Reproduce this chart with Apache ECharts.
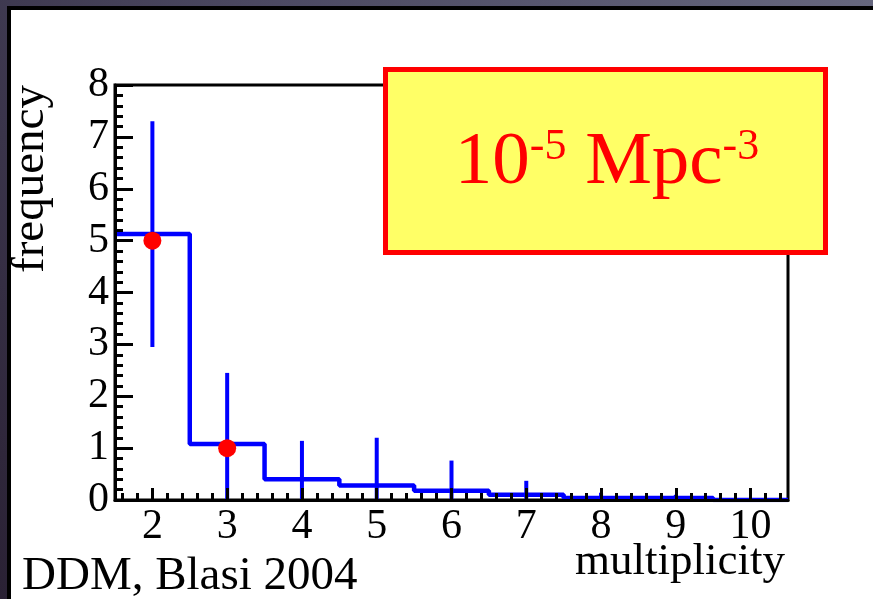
<!DOCTYPE html>
<html>
<head>
<meta charset="utf-8">
<script src="https://cdn.jsdelivr.net/npm/echarts@6/dist/echarts.min.js"></script>
<style>
  html, body { margin: 0; padding: 0; background: #3a3748; }
  #chart { width: 873px; height: 599px; }
</style>
</head>
<body>
<div id="chart"></div>
<script>
// Multiplicity histogram (bin edges and bin contents)
const binEdges  = [1.5, 2.5, 3.5, 4.5, 5.5, 6.5, 7.5, 8.5, 9.5, 10.5];
const binCounts = [5.13, 1.08, 0.40, 0.28, 0.18, 0.10, 0.04, 0.04, 0.0];

// Error bars at the bin centres
const errX    = [2, 3, 4, 5, 6, 7, 8, 9];
const errLow  = [2.95, 0, 0, 0, 0, 0, 0, 0];
const errHigh = [7.30, 2.45, 1.14, 1.20, 0.76, 0.37, 0.14, 0.10];

// Observed multiplets
const obsX = [2, 3];
const obsY = [5, 1];

// Axis tick labels
const xTickLabels = [2, 3, 4, 5, 6, 7, 8, 9, 10];
const yTickLabels = [0, 1, 2, 3, 4, 5, 6, 7, 8];

const SERIF = 'Liberation Serif';

// Step outline of the histogram built from edges and counts
const stepPoints = [];
for (let i = 0; i < binCounts.length; i++) {
  stepPoints.push([binEdges[i], binCounts[i]]);
  stepPoints.push([binEdges[i + 1], binCounts[i]]);
}

// Minor x ticks every 0.2 between the integer ticks
const xMinorTicks = [];
for (let k = 8; k <= 52; k++) {
  const v = Math.round(k * 0.2 * 10) / 10;
  if (Math.abs(v - Math.round(v)) > 1e-6) xMinorTicks.push(v);
}

const chart = echarts.init(document.getElementById('chart'), null, { renderer: 'canvas' });

chart.setOption({
  animation: false,
  backgroundColor: 'transparent',
  grid: {
    left: 115, right: 85, top: 85, bottom: 99,
    show: true, borderColor: '#000', borderWidth: 3, backgroundColor: 'transparent'
  },
  xAxis: [
    {
      type: 'value', min: 1.5, max: 10.5, position: 'bottom', z: 5,
      axisLine: { show: true, onZero: false, lineStyle: { color: '#000', width: 3 } },
      axisTick: { show: true, inside: true, length: 12, lineStyle: { color: '#000', width: 3 }, customValues: xTickLabels },
      axisLabel: { customValues: xTickLabels, fontFamily: SERIF, fontSize: 42, color: '#000', margin: 6 },
      splitLine: { show: false }
    },
    {
      type: 'value', min: 1.5, max: 10.5, position: 'bottom', z: 5,
      axisLine: { show: false, onZero: false },
      axisTick: { show: true, inside: true, length: 7, lineStyle: { color: '#000', width: 3 }, customValues: xMinorTicks },
      axisLabel: { show: false },
      splitLine: { show: false }
    }
  ],
  yAxis: {
    type: 'value', min: 0, max: 8, interval: 1, z: 5,
    axisLine: { show: true, lineStyle: { color: '#000', width: 3 } },
    axisTick: { show: true, inside: true, length: 18, lineStyle: { color: '#000', width: 3 } },
    minorTick: { show: true, splitNumber: 5, length: 8, lineStyle: { color: '#000', width: 3 } },
    axisLabel: { customValues: yTickLabels, fontFamily: SERIF, fontSize: 42, color: '#000', margin: 6 },
    splitLine: { show: false },
    minorSplitLine: { show: false }
  },
  series: [
    {
      type: 'line', xAxisIndex: 0, data: stepPoints, showSymbol: false, z: 3,
      lineStyle: { color: '#0000ff', width: 4.5 }
    },
    {
      type: 'custom', xAxisIndex: 0, z: 3,
      data: errX.map((x, i) => [x, errLow[i], errHigh[i]]),
      encode: { x: 0, y: [1, 2] },
      renderItem: function (params, api) {
        const x = api.value(0);
        const p1 = api.coord([x, api.value(1)]);
        const p2 = api.coord([x, api.value(2)]);
        return {
          type: 'line',
          shape: { x1: p1[0], y1: p1[1], x2: p2[0], y2: p2[1] },
          style: { stroke: '#0000ff', lineWidth: 4 }
        };
      }
    },
    {
      type: 'scatter', xAxisIndex: 0, z: 6,
      data: obsX.map((x, i) => [x, obsY[i]]),
      symbol: 'circle', symbolSize: 18,
      itemStyle: { color: '#ff0000', opacity: 1 }
    }
  ],
  graphic: [
    {
      type: 'rect', z: -20, silent: true,
      shape: { x: 0, y: 0, width: 873, height: 599 },
      style: {
        fill: new echarts.graphic.LinearGradient(1, 0, 0, 1, [
          { offset: 0, color: '#66677e' },
          { offset: 0.5, color: '#4a4760' },
          { offset: 1, color: '#2a2134' }
        ])
      }
    },
    {
      type: 'rect', z: -19, silent: true,
      shape: { x: 7, y: 6, width: 866, height: 593 },
      style: { fill: '#000' }
    },
    {
      type: 'rect', z: -18, silent: true,
      shape: { x: 11, y: 10, width: 862, height: 589 },
      style: { fill: '#ffffff' }
    },
    {
      type: 'text', z: 10, silent: true,
      x: 31, y: 179, rotation: Math.PI / 2,
      style: { text: 'frequency', fontFamily: SERIF, fontSize: 47, fill: '#000', align: 'center', verticalAlign: 'middle' }
    },
    {
      type: 'text', z: 10, silent: true,
      x: 785, y: 562,
      style: { text: 'multiplicity', fontFamily: SERIF, fontSize: 45, fill: '#000', align: 'right', verticalAlign: 'middle' }
    },
    {
      type: 'text', z: 10, silent: true,
      x: 22, y: 577,
      style: { text: 'DDM, Blasi 2004', fontFamily: SERIF, fontSize: 47, fill: '#000', align: 'left', verticalAlign: 'middle' }
    },
    {
      type: 'rect', z: 100, silent: true,
      shape: { x: 385.5, y: 69.5, width: 440, height: 183 },
      style: { fill: '#ffff66', stroke: '#ff0000', lineWidth: 5 }
    },
    {
      type: 'text', z: 101, silent: true,
      x: 607, y: 163,
      style: {
        text: '{a|10}{s|-5}{a| Mpc}{s|-3}',
        align: 'center', verticalAlign: 'middle',
        rich: {
          a: { fontFamily: SERIF, fontSize: 75, lineHeight: 75, fill: '#ff0000' },
          s: { fontFamily: SERIF, fontSize: 44, lineHeight: 44, verticalAlign: 'top', fill: '#ff0000' }
        }
      }
    }
  ]
});
</script>
</body>
</html>
